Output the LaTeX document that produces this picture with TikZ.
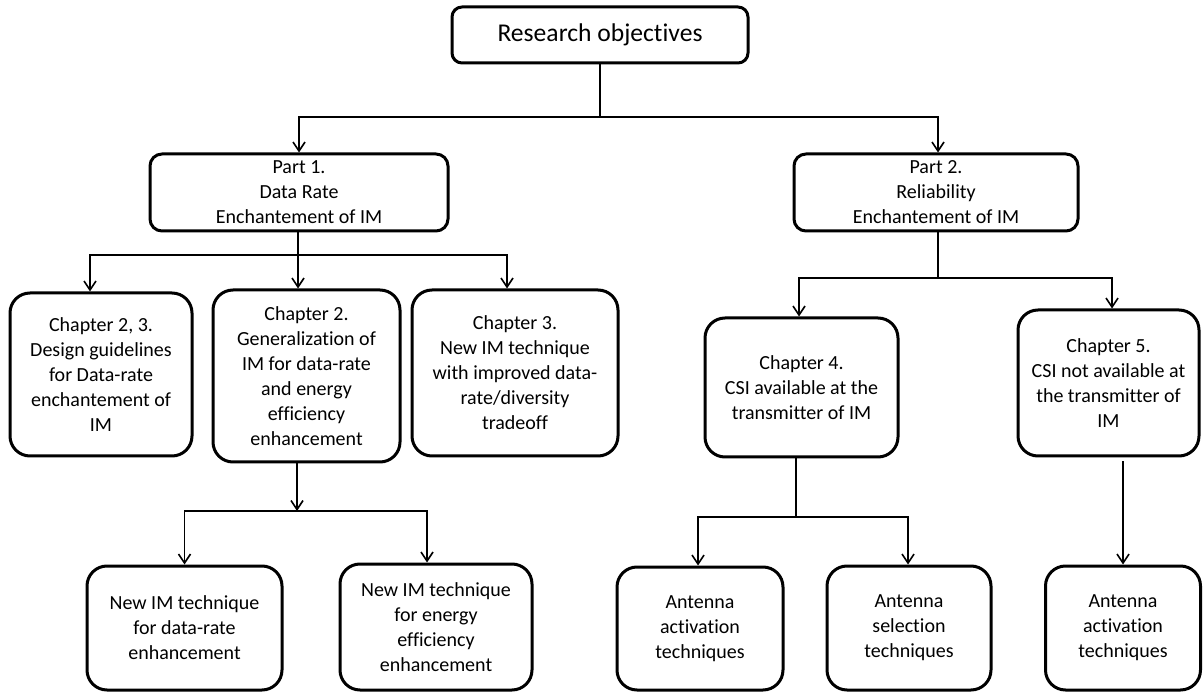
\documentclass[tikz,border=0pt]{standalone}
\usepackage{fontspec}
\setmainfont{Carlito}[Ligatures={NoCommon,NoRare,NoDiscretionary}]
\usetikzlibrary{arrows.meta}
\begin{document}
\begin{tikzpicture}[x=1pt,y=-1pt,
  box/.style={draw=black,line width=3pt,rounded corners=20pt,align=center,inner sep=0pt,
    font=\fontsize{20}{25}\selectfont},
  partbox/.style={box,rounded corners=12pt},
  topbox/.style={box,rounded corners=10pt,font=\fontsize{25.6}{30}\selectfont},
  conn/.style={line width=1.6pt},
  arr/.style={conn,-{Straight Barb[length=9pt,width=12pt,line width=1.6pt]}}]
\useasboundingbox (0,0) rectangle (1203,692);
\fill[white] (0,0) rectangle (1203,692);

% nodes
\node[topbox,minimum width=296pt,minimum height=56pt] (R) at (600,35) {Research objectives};
\node[partbox,minimum width=298pt,minimum height=77pt] (P1) at (299,192.5) {Part 1.\\Data Rate\\Enchantement of IM};
\node[partbox,minimum width=284pt,minimum height=77pt] (P2) at (936,192.5) {Part 2.\\Reliability\\Enchantement of IM};

\node[box,minimum width=182pt,minimum height=163pt] (C23) at (101,374.5) {Chapter 2, 3.\\Design guidelines\\for Data-rate\\enchantement of\\IM};
\node[box,minimum width=187pt,minimum height=172pt] (C2) at (306.5,376) {Chapter 2.\\Generalization of\\IM for data-rate\\and energy\\efficiency\\enhancement};
\node[box,minimum width=206pt,minimum height=166pt] (C3) at (515,373) {Chapter 3.\\New IM technique\\with improved data-\\rate/diversity\\tradeoff};
\node[box,minimum width=193pt,minimum height=139pt] (C4) at (801.5,387.5) {Chapter 4.\\CSI available at the\\transmitter of IM};
\node[box,minimum width=181pt,minimum height=146pt] (C5) at (1108.5,383) {Chapter 5.\\CSI not available at\\the transmitter of\\IM};

\node[box,minimum width=195pt,minimum height=124pt] (N1) at (184.5,628) {New IM technique\\for data-rate\\enhancement};
\node[box,minimum width=192pt,minimum height=126pt] (N2) at (436,627) {New IM technique\\for energy\\efficiency\\enhancement};
\node[box,minimum width=166pt,minimum height=123pt] (A1) at (700,628.5) {Antenna\\activation\\techniques};
\node[box,minimum width=164pt,minimum height=124pt] (A2) at (909,628) {Antenna\\selection\\techniques};
\node[box,minimum width=155pt,minimum height=124pt] (A3) at (1123,628) {Antenna\\activation\\techniques};

% junctions
\coordinate (j0) at (600,117);
\coordinate (j1) at (298,255);
\coordinate (j2) at (297,511);
\coordinate (j3) at (938,278);
\coordinate (j4) at (796,517);

% connectors
\draw[conn] (R.south) -- (j0);
\draw[arr] (j0) -| (P1.north);
\draw[arr] (j0) -| ([xshift=2pt]P2.north);

\draw[conn] (P1.south -| j1) -- (j1);
\draw[arr] (j1) -| ([xshift=-11pt]C23.north);
\draw[arr] (j1) -- (j1 |- C2.north);
\draw[arr] (j1) -| ([xshift=-8pt]C3.north);

\draw[arr] (C2.south -| j2) -- (j2);
\draw[arr] (j2) -| (N1.north);
\draw[arr] (j2) -| ([xshift=-9pt]N2.north);

\draw[conn] (P2.south -| j3) -- (j3);
\draw[arr] (j3) -| ([xshift=-2.5pt]C4.north);
\draw[arr] (j3) -| ([xshift=3.5pt]C5.north);

\draw[conn] (C4.south -| j4) -- (j4);
\draw[arr] (j4) -| ([xshift=-2pt]A1.north);
\draw[arr] (j4) -| ([xshift=-1pt]A2.north);

\draw[arr] ([yshift=-4pt]C5.south -| A3.north) -- (A3.north);
\end{tikzpicture}
\end{document}
